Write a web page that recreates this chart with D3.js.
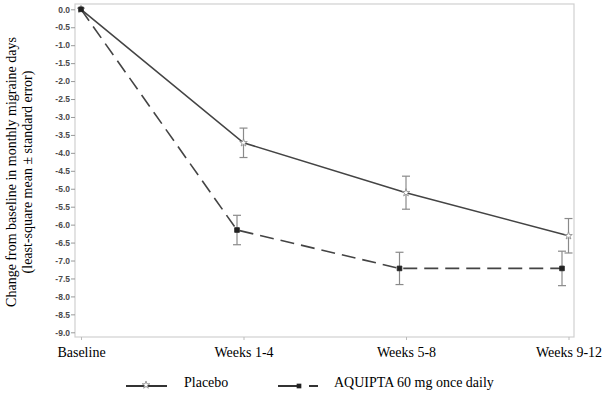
<!DOCTYPE html>
<html>
<head>
<meta charset="utf-8">
<script src="https://cdn.jsdelivr.net/npm/d3@7"></script>
<style>
  body { margin: 0; background: #fff; }
  svg { display: block; }
</style>
</head>
<body>
<div id="chart"></div>
<script>
// Timepoints along the x axis
var categories = ['Baseline', 'Weeks 1-4', 'Weeks 5-8', 'Weeks 9-12'];

// Least-square mean change from baseline
var placeboMean  = [0, -3.72, -5.11, -6.31];
var placeboSE    = [0, 0.41, 0.46, 0.48];
var aquiptaMean  = [0, -6.15, -7.22, -7.22];
var aquiptaSE    = [0, 0.41, 0.45, 0.48];

// Y tick values (0.0 down to -9.0)
var yTicks = d3.range(0, -9.01, -0.5);

var seriesNames = ['Placebo', 'AQUIPTA 60 mg once daily'];

var width = 608, height = 395;
var frame = {left: 75, right: 574, top: 4, bottom: 337};

var svg = d3.select('#chart').append('svg')
    .attr('width', width)
    .attr('height', height);

// Scales
var x = d3.scalePoint()
    .domain(categories)
    .range([81, 568.5]);

var y = d3.scaleLinear()
    .domain([0, -9])
    .range([9.3, 332.3]);

// Plot frame
svg.append('rect')
    .attr('x', frame.left)
    .attr('y', frame.top)
    .attr('width', frame.right - frame.left)
    .attr('height', frame.bottom - frame.top)
    .attr('fill', 'none')
    .attr('stroke', '#d0d0d0')
    .attr('stroke-width', 1.2);

// Y axis
var yAxis = svg.append('g')
    .attr('transform', 'translate(' + frame.left + ',0)')
    .call(d3.axisLeft(y)
        .tickValues(yTicks)
        .tickSize(4)
        .tickFormat(function(d) { return d.toFixed(1); }));
yAxis.select('.domain').remove();
yAxis.selectAll('line').attr('stroke', '#999');
yAxis.selectAll('text')
    .attr('fill', '#4a4a4a')
    .attr('x', -5)
    .style('font-family', 'Arial, "Liberation Sans", sans-serif')
    .style('font-size', '8.5px')
    .style('font-weight', 'bold');

// X axis
var xAxis = svg.append('g')
    .attr('transform', 'translate(0,' + frame.bottom + ')')
    .call(d3.axisBottom(x).tickSize(3).tickPadding(7));
xAxis.select('.domain').remove();
xAxis.selectAll('line').attr('stroke', '#bbb');
xAxis.selectAll('text')
    .attr('fill', '#000')
    .style('font-family', '"Liberation Serif", "Times New Roman", serif')
    .style('font-size', '14px');

// Y axis title
var yTitle = svg.append('text')
    .attr('transform', 'translate(16,172) rotate(-90)')
    .attr('text-anchor', 'middle')
    .style('font-family', '"Liberation Serif", "Times New Roman", serif')
    .style('font-size', '14px')
    .attr('fill', '#000');
yTitle.append('tspan').attr('x', 0).attr('dy', 0)
    .text('Change from baseline in monthly migraine days');
yTitle.append('tspan').attr('x', 0).attr('dy', 16)
    .text('(least-square mean \u00b1 standard error)');

// Build series data
function buildSeries(means, ses, offset) {
    return categories.map(function(c, i) {
        return {cat: c, mean: means[i], se: ses[i], dx: i === 0 ? 0 : offset};
    });
}
var series = [
    {name: seriesNames[0], data: buildSeries(placeboMean, placeboSE, 0), dash: null, marker: 'star'},
    {name: seriesNames[1], data: buildSeries(aquiptaMean, aquiptaSE, -6.5), dash: '14,7', marker: 'square'}
];

var line = d3.line()
    .x(function(d) { return x(d.cat) + d.dx; })
    .y(function(d) { return y(d.mean); });

var lineColor = '#444', barColor = '#8a8a8a';

series.forEach(function(s) {
    var g = svg.append('g');

    // Error bars
    var bars = g.selectAll('.err')
        .data(s.data.filter(function(d) { return d.se > 0; }))
        .enter().append('g')
        .attr('class', 'err')
        .attr('stroke', barColor)
        .attr('stroke-width', 1.2);
    bars.append('line')
        .attr('x1', function(d) { return x(d.cat) + d.dx; })
        .attr('x2', function(d) { return x(d.cat) + d.dx; })
        .attr('y1', function(d) { return y(d.mean + d.se); })
        .attr('y2', function(d) { return y(d.mean - d.se); });
    [1, -1].forEach(function(sign) {
        bars.append('line')
            .attr('x1', function(d) { return x(d.cat) + d.dx - 4; })
            .attr('x2', function(d) { return x(d.cat) + d.dx + 4; })
            .attr('y1', function(d) { return y(d.mean + sign * d.se); })
            .attr('y2', function(d) { return y(d.mean + sign * d.se); });
    });

    // Mean line
    g.append('path')
        .datum(s.data)
        .attr('d', line)
        .attr('fill', 'none')
        .attr('stroke', lineColor)
        .attr('stroke-width', 1.6)
        .attr('stroke-dasharray', s.dash);

    // Markers
    var sym = s.marker === 'star'
        ? d3.symbol().type(d3.symbolStar).size(18)
        : d3.symbol().type(d3.symbolSquare).size(22);
    g.selectAll('.pt')
        .data(s.data)
        .enter().append('path')
        .attr('class', 'pt')
        .attr('transform', function(d) { return 'translate(' + (x(d.cat) + d.dx) + ',' + y(d.mean) + ')'; })
        .attr('d', sym)
        .attr('fill', s.marker === 'star' ? '#fff' : '#222')
        .attr('stroke', s.marker === 'star' ? '#888' : '#222')
        .attr('stroke-width', 0.8);
});

// Legend
var legend = svg.append('g');
var legendItems = [
    {name: seriesNames[0], x0: 126, x1: 167, mx: 146, marker: 'star'},
    {name: seriesNames[1], x0: 278, x1: 319, mx: 299, marker: 'square'}
];
var ly = 386;
legendItems.forEach(function(it) {
    if (it.marker === 'star') {
        legend.append('line')
            .attr('x1', it.x0).attr('x2', it.x1)
            .attr('y1', ly).attr('y2', ly)
            .attr('stroke', '#333').attr('stroke-width', 1.8);
        legend.append('path')
            .attr('transform', 'translate(' + it.mx + ',' + (ly - 1) + ')')
            .attr('d', d3.symbol().type(d3.symbolStar).size(18))
            .attr('fill', '#fff').attr('stroke', '#888').attr('stroke-width', 0.8);
    } else {
        legend.append('line')
            .attr('x1', it.x0).attr('x2', it.x1)
            .attr('y1', ly).attr('y2', ly)
            .attr('stroke', '#333').attr('stroke-width', 1.8)
            .attr('stroke-dasharray', '22,9,9');
        legend.append('path')
            .attr('transform', 'translate(' + it.mx + ',' + ly + ')')
            .attr('d', d3.symbol().type(d3.symbolSquare).size(22))
            .attr('fill', '#222');
    }
    legend.append('text')
        .attr('x', it.x1 + (it.marker === 'star' ? 17 : 15))
        .attr('y', ly + 1)
        .style('font-family', '"Liberation Serif", "Times New Roman", serif')
        .style('font-size', '14px')
        .attr('fill', '#000')
        .text(it.name);
});
</script>
</body>
</html>
